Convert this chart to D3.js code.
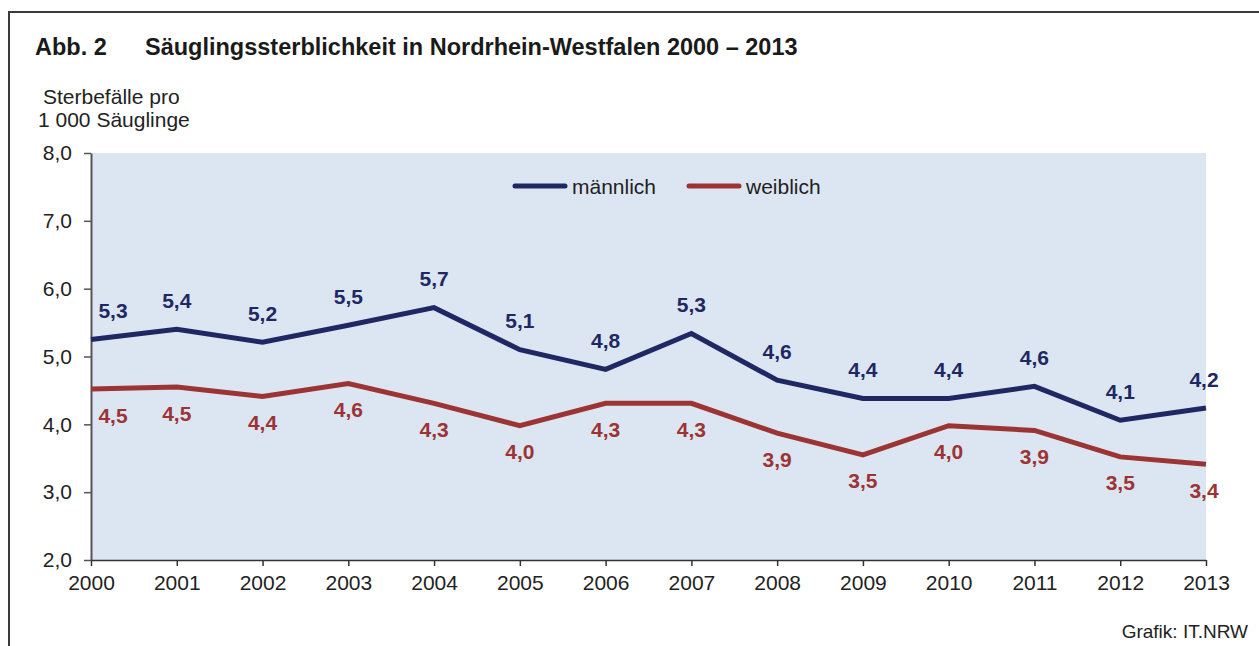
<!DOCTYPE html>
<html>
<head>
<meta charset="utf-8">
<script src="https://cdn.jsdelivr.net/npm/d3@7"></script>
<style>
  html, body { margin: 0; padding: 0; background: #fff; }
  svg { display: block; font-family: "Liberation Sans", Arial, sans-serif; }
</style>
</head>
<body>
<svg id="chart" width="1259" height="646"></svg>
<script>
const years = [2000, 2001, 2002, 2003, 2004, 2005, 2006, 2007, 2008, 2009, 2010, 2011, 2012, 2013];
const maleValues = [5.25, 5.40, 5.21, 5.46, 5.72, 5.10, 4.81, 5.34, 4.65, 4.38, 4.38, 4.56, 4.06, 4.24];
const femaleValues = [4.52, 4.55, 4.41, 4.60, 4.31, 3.98, 4.31, 4.31, 3.87, 3.55, 3.98, 3.91, 3.52, 3.41];
const maleLabels = ["5,3","5,4","5,2","5,5","5,7","5,1","4,8","5,3","4,6","4,4","4,4","4,6","4,1","4,2"];
const femaleLabels = ["4,5","4,5","4,4","4,6","4,3","4,0","4,3","4,3","3,9","3,5","4,0","3,9","3,5","3,4"];
const yTicks = [2, 3, 4, 5, 6, 7, 8];
const yTickLabels = ["2,0","3,0","4,0","5,0","6,0","7,0","8,0"];
const seriesNames = ["männlich", "weiblich"];
const colors = ["#1f2862", "#9c3434"];

(function () {
const svg = d3.select("#chart");
const pLeft = 91, pRight = 1206, pTop = 153, pBottom = 560;
const FONT = "Liberation Sans, Arial, sans-serif";

// frame
svg.append("path").attr("d", "M9,646 V12 H1259").attr("fill", "none")
  .attr("stroke", "#3a3a3a").attr("stroke-width", 2);

// title
svg.append("text").attr("x", 35).attr("y", 55).attr("font-size", 23.5).attr("font-weight", "bold")
  .attr("fill", "#1a1a1a").text("Abb. 2");
svg.append("text").attr("x", 145).attr("y", 55).attr("font-size", 23.5).attr("font-weight", "bold")
  .attr("fill", "#1a1a1a").text("Säuglingssterblichkeit in Nordrhein-Westfalen 2000 – 2013");

// y-axis title
svg.append("text").attr("x", 43).attr("y", 104).attr("font-size", 21).attr("fill", "#222").text("Sterbefälle pro");
svg.append("text").attr("x", 38).attr("y", 127).attr("font-size", 21).attr("fill", "#222").text("1 000 Säuglinge");

const x = d3.scaleLinear().domain([years[0], years[years.length - 1]]).range([pLeft, pRight]);
const y = d3.scaleLinear().domain([2, 8]).range([pBottom, pTop]);

svg.append("rect").attr("x", pLeft).attr("y", pTop).attr("width", pRight - pLeft).attr("height", pBottom - pTop)
  .attr("fill", "#dce6f2");

// axes
const yAxis = d3.axisLeft(y).tickValues(yTicks).tickFormat((d, i) => yTickLabels[i]).tickSize(7).tickSizeOuter(0);
const gy = svg.append("g").attr("transform", `translate(${pLeft},0)`).call(yAxis);
gy.select(".domain").attr("stroke", "#555").attr("stroke-width", 2);
gy.selectAll(".tick line").attr("stroke", "#555").attr("stroke-width", 1.5);
gy.selectAll(".tick text").attr("font-size", 21).attr("fill", "#222").attr("x", -19)
  .attr("font-family", FONT);

const xAxis = d3.axisBottom(x).tickValues(years).tickFormat(d3.format("d")).tickSize(6).tickSizeOuter(0);
const gx = svg.append("g").attr("transform", `translate(0,${pBottom})`).call(xAxis);
gx.select(".domain").attr("stroke", "#333").attr("stroke-width", 1.5);
gx.selectAll(".tick line").attr("stroke", "#333").attr("stroke-width", 1.5);
gx.selectAll(".tick text").attr("font-size", 21).attr("fill", "#222").attr("y", 15)
  .attr("font-family", FONT);

// lines
const line = d3.line().x((d, i) => x(years[i])).y(d => y(d));
[maleValues, femaleValues].forEach((vals, k) => {
  svg.append("path").datum(vals).attr("d", line).attr("fill", "none")
    .attr("stroke", colors[k]).attr("stroke-width", 5).attr("stroke-linejoin", "miter");
});

// data labels
const labelDx = i => (i === 0 ? 22 : (i === years.length - 1 ? -2 : 0));
svg.append("g").selectAll("text").data(maleValues).join("text")
  .attr("x", (d, i) => x(years[i]) + labelDx(i)).attr("y", d => y(d) - 29)
  .attr("text-anchor", "middle").attr("dominant-baseline", "central")
  .attr("font-size", 21).attr("font-weight", "bold").attr("fill", colors[0])
  .text((d, i) => maleLabels[i]);
svg.append("g").selectAll("text").data(femaleValues).join("text")
  .attr("x", (d, i) => x(years[i]) + labelDx(i)).attr("y", d => y(d) + 26)
  .attr("text-anchor", "middle").attr("dominant-baseline", "central")
  .attr("font-size", 21).attr("font-weight", "bold").attr("fill", colors[1])
  .text((d, i) => femaleLabels[i]);

// legend
const legendX = [513, 687];
seriesNames.forEach((name, k) => {
  svg.append("line").attr("x1", legendX[k] + 2).attr("x2", legendX[k] + 52).attr("y1", 186).attr("y2", 186)
    .attr("stroke", colors[k]).attr("stroke-width", 5).attr("stroke-linecap", "round");
  svg.append("text").attr("x", legendX[k] + 59).attr("y", 186).attr("dominant-baseline", "central")
    .attr("font-size", 21).attr("fill", "#222").text(name);
});

// source
svg.append("text").attr("x", 1248).attr("y", 638).attr("text-anchor", "end").attr("font-size", 19)
  .attr("fill", "#222").text("Grafik: IT.NRW");
})();
</script>
</body>
</html>
